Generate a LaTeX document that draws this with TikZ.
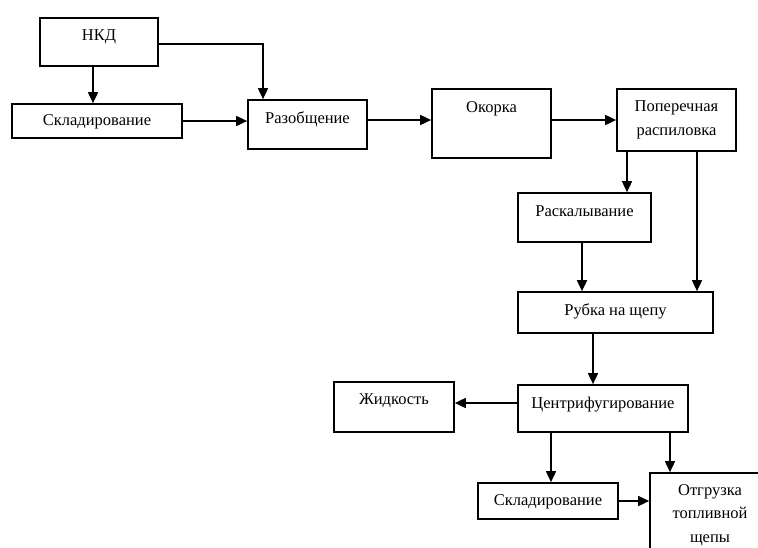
\documentclass[tikz,border=0pt]{standalone}
\usepackage{fontspec}
\setmainfont{Liberation Serif}
\usetikzlibrary{arrows.meta}
\tikzset{
  flbox/.style={draw, line width=1.7pt, align=center, inner sep=2pt},
  flone/.style={text height=12pt, text depth=#1},
  flone/.default=4pt,
  flarr/.style={-{Triangle[length=11pt,width=10pt]}, line width=1.7pt}
}

\begin{document}
\begin{tikzpicture}[font=\fontsize{16.5}{23.5}\selectfont, x=1pt, y=-1pt]
  \clip (0,0) rectangle (758,547);

  \node[flbox, flone=15pt, minimum width=118, minimum height=48] (nkd) at (99,42) {НКД};
  \node[flbox, flone, minimum width=170, minimum height=34] (sklad1) at (97,121) {Складирование};
  \node[flbox, flone=15pt, minimum width=119, minimum height=49] (razob) at (307.5,124.5) {Разобщение};
  \node[flbox, flone=35pt, minimum width=119, minimum height=69] (okorka) at (491.5,123.5) {Окорка};
  \node[flbox, minimum width=119, minimum height=62] (poper) at (676.5,120) {Поперечная\\распиловка};
  \node[flbox, flone=14pt, minimum width=133, minimum height=49] (raskal) at (584.5,217.5) {Раскалывание};
  \node[flbox, flone=7pt, minimum width=195, minimum height=41] (rubka) at (615.5,312.5) {Рубка на щепу};
  \node[flbox, flone=13pt, minimum width=170, minimum height=47] (centr) at (603,408.5) {Центрифугирование};
  \node[flbox, flone=18pt, minimum width=120, minimum height=50] (zhid) at (394,407) {Жидкость};
  \node[flbox, flone, minimum width=140, minimum height=36] (sklad2) at (548,501) {Складирование};
  \node[flbox, minimum width=120, minimum height=84] (otgr) at (710,515) {Отгрузка\\топливной\\щепы};

  \draw[flarr] ([xshift=-6pt]nkd.south) -- ([xshift=-4pt]sklad1.north);
  \draw[flarr] ([yshift=-2pt]nkd.east) -| ([xshift=-44.5pt]razob.north);
  \draw[flarr] (sklad1.east) -- (sklad1.east -| razob.west);
  \draw[flarr] ([yshift=4.5pt]razob.east) -- ([yshift=4.5pt]razob.east -| okorka.west);
  \draw[flarr] (okorka.east |- poper.west) -- (poper.west);
  \draw[flarr] ([xshift=-49.5pt]poper.south) -- ([xshift=-49.5pt]poper.south |- raskal.north);
  \draw[flarr] ([xshift=20.5pt]poper.south) -- ([xshift=20.5pt]poper.south |- rubka.north);
  \draw[flarr] ([xshift=-2.5pt]raskal.south) -- ([xshift=-2.5pt]raskal.south |- rubka.north);
  \draw[flarr] ([xshift=-22.5pt]rubka.south) -- ([xshift=-22.5pt]rubka.south |- centr.north);
  \draw[flarr] ([yshift=5.5pt]centr.west) -- ([yshift=5.5pt]centr.west -| zhid.east);
  \draw[flarr] ([xshift=-52pt]centr.south) -- ([xshift=-52pt]centr.south |- sklad2.north);
  \draw[flarr] ([xshift=67pt]centr.south) -- ([xshift=67pt]centr.south |- otgr.north);
  \draw[flarr] (sklad2.east) -- (sklad2.east -| otgr.west);
\end{tikzpicture}
\end{document}
